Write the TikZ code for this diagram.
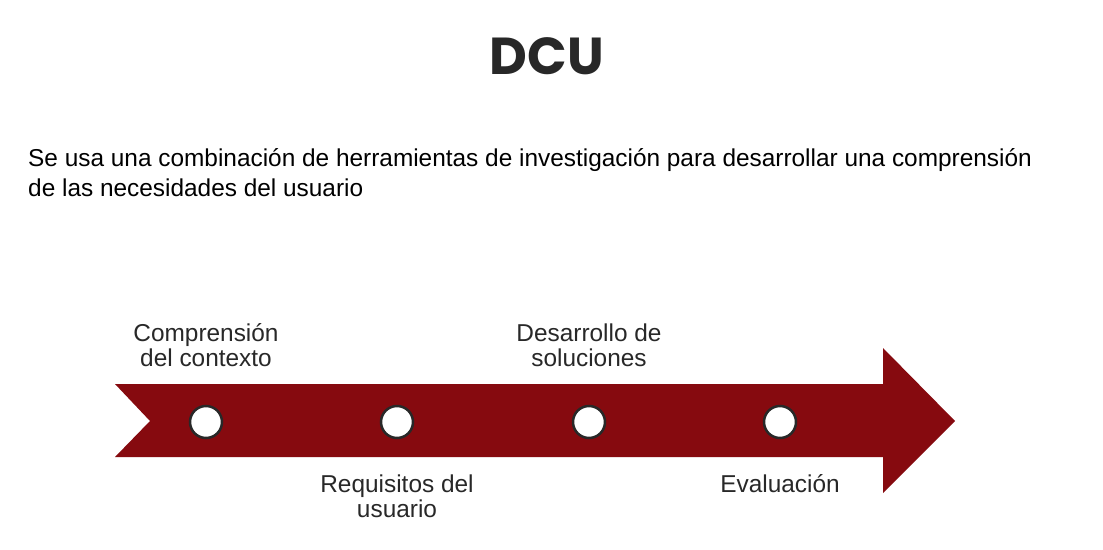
\documentclass[tikz,border=0pt]{standalone}
\usepackage{fontspec}
\setmainfont{Liberation Sans}
\newfontfamily\titlefont{Poppins}
\definecolor{arrowred}{RGB}{134,10,15}
\definecolor{txtgray}{RGB}{40,40,40}
\begin{document}
\begin{tikzpicture}[x=1pt,y=-1pt,
  dot/.style={circle,fill=white,draw=txtgray,line width=2.5pt,minimum size=32pt,inner sep=0pt},
  lbl/.style={align=center,text=txtgray,font=\fontsize{24.4}{25}\selectfont,inner sep=0pt}]
\useasboundingbox[fill=white] (0,0) rectangle (1103,549);
\node[font=\titlefont\bfseries\fontsize{52}{60}\selectfont,text=txtgray] (title) at (547,56) {DCU};
\node[anchor=west,align=left,text=black,font=\fontsize{24.4}{30}\selectfont,inner sep=0pt] (intro) at (28,173)
 {Se usa una combinación de herramientas de investigación para desarrollar una comprensión\\de las necesidades del usuario};
\fill[arrowred] (115,384) -- (883,384) -- (883,348) -- (955,421) -- (883,493) -- (883,457) -- (115,457) -- (150,421) -- cycle;
\node[dot] (c1) at (206,422) {};
\node[dot] (c2) at (397,422) {};
\node[dot] (c3) at (589,422) {};
\node[dot] (c4) at (780,422) {};
\node[lbl] (l1) at (206,345) {Comprensión\\del contexto};
\node[lbl] (l3) at (589,345) {Desarrollo de\\soluciones};
\node[lbl] (l2) at (397,496) {Requisitos del\\usuario};
\node[lbl] (l4) at (780,484) {Evaluación};
\end{tikzpicture}
\end{document}
